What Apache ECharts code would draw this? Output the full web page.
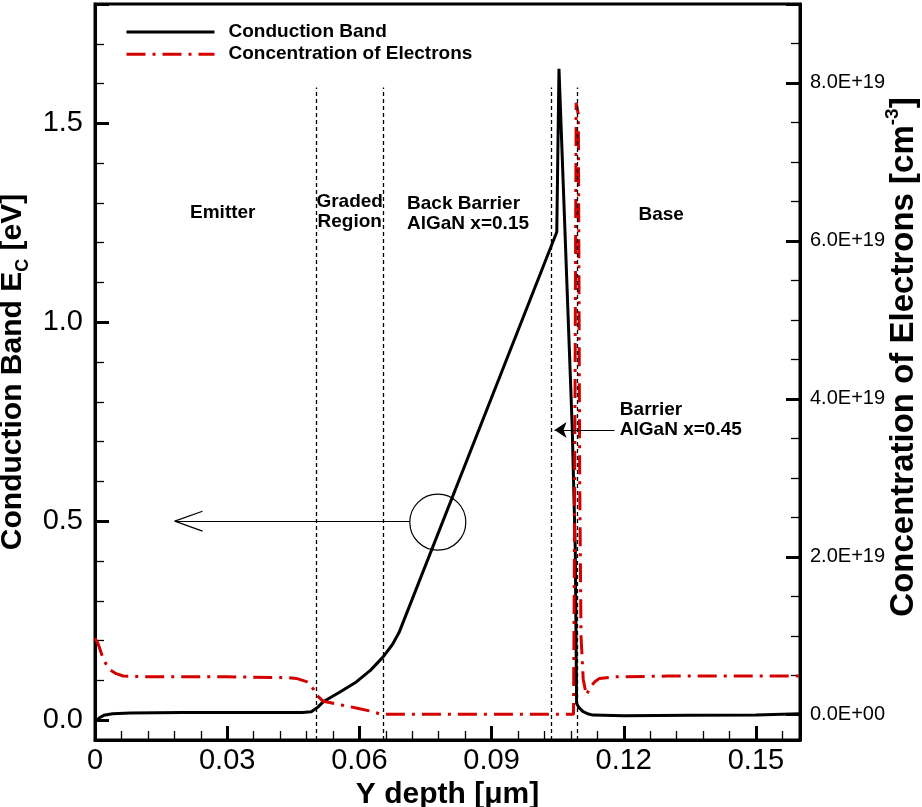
<!DOCTYPE html>
<html><head><meta charset="utf-8">
<script src="https://cdn.jsdelivr.net/npm/echarts@6/dist/echarts.min.js"></script>
<style>html,body{margin:0;padding:0;background:#fff}#c{width:922px;height:807px}</style>
</head><body><div id="c"></div>
<script>
// ---- data ----
const depthCB = [0, 0.001, 0.002, 0.004, 0.008, 0.02, 0.035, 0.047, 0.0491, 0.0505, 0.0518, 0.0555, 0.0593, 0.0625, 0.0654, 0.0675, 0.0690, 0.1048, 0.1053, 0.1083, 0.1090, 0.1093, 0.1098, 0.1107, 0.1118, 0.1130, 0.120, 0.135, 0.150, 0.160];
const conductionBand = [-0.005, 0.006, 0.012, 0.016, 0.018, 0.019, 0.019, 0.019, 0.021, 0.032, 0.046, 0.070, 0.096, 0.125, 0.159, 0.190, 0.220, 1.227, 1.637, 0.737, 0.427, 0.042, 0.032, 0.022, 0.016, 0.0126, 0.011, 0.012, 0.013, 0.016];
const depthN = [0, 0.0007, 0.0018, 0.0027, 0.0034, 0.0048, 0.0064, 0.012, 0.030, 0.044, 0.0457, 0.048, 0.0495, 0.0503, 0.0518, 0.0593, 0.0630, 0.0646, 0.066, 0.100, 0.1086, 0.1088, 0.1092, 0.1097, 0.1100, 0.1103, 0.1108, 0.1115, 0.1125, 0.1135, 0.1145, 0.118, 0.130, 0.160];
const electronConc = [0.97, 0.90, 0.72, 0.62, 0.57, 0.52, 0.49, 0.48, 0.48, 0.47, 0.46, 0.42, 0.33, 0.25, 0.17, 0.085, 0.04, 0.01, 0.005, 0.005, 0.005, 2.0, 7.75, 7.6, 3.0, 1.0, 0.45, 0.25, 0.36, 0.42, 0.46, 0.48, 0.49, 0.49]; // x 1E19 cm^-3
const xMajorTicks = [0, 0.03, 0.06, 0.09, 0.12, 0.15];
const ecMajorTicks = [0, 0.5, 1.0, 1.5];
const concMajorTicks = [0, 2, 4, 6, 8];
const regionBounds = [0.0501, 0.0655, 0.1035, 0.1094];
const regionNames = ['Emitter', 'Graded\nRegion', 'Back Barrier\nAlGaN x=0.15', 'Base', 'Barrier\nAlGaN x=0.45'];
const regionNameX = [0.0290, 0.0578, 0.0707, 0.1285, 0.1190];
const regionNameY = [1.276, 1.277, 1.272, 1.269, 0.755];
const regionNameAlign = ['center', 'center', 'left', 'center', 'left'];

// ---- chart ----
const FONT = "'Liberation Sans', Arial, Helvetica, sans-serif";
const near = (v, list) => list.some(t => Math.abs(v - t) < 1e-6);
const bandDash = [4, 3];

const markPts = regionNames.map((t, i) => ({
  coord: [regionNameX[i], regionNameY[i]],
  symbol: 'circle', symbolSize: 1,
  itemStyle: {color: 'rgba(0,0,0,0)'},
  label: {show: true, formatter: t, position: regionNameAlign[i] === 'left' ? 'right' : 'inside', distance: 0,
    color: '#000', fontFamily: FONT, fontWeight: 'bold', fontSize: 19, lineHeight: 20, align: regionNameAlign[i]}
}));
markPts.push({coord: [0.0778, 0.4975], symbol: 'circle', symbolSize: 56,
  itemStyle: {color: 'rgba(0,0,0,0)', borderColor: '#000', borderWidth: 1.2}, label: {show: false}});

const thin = {color: '#000', width: 1.2, type: 'solid'};
const markLines = regionBounds.map(x => [
  {coord: [x, -0.05], lineStyle: {color: '#000', width: 1.3, type: bandDash}},
  {coord: [x, 1.59]}
]);
markLines.push([{coord: [0.0714, 0.5], lineStyle: thin}, {coord: [0.0181, 0.5]}]);
markLines.push([{coord: [0.0181, 0.5], lineStyle: thin}, {coord: [0.0244, 0.525]}]);
markLines.push([{coord: [0.0181, 0.5], lineStyle: thin}, {coord: [0.0244, 0.475]}]);
markLines.push([{coord: [0.1179, 0.729], lineStyle: thin, symbol: 'none'}, {coord: [0.1043, 0.729], symbol: 'arrow', symbolSize: 12}]);

const axisLineS = {show: true, onZero: false, lineStyle: {color: '#000', width: 3}};
const majorTick = {show: true, inside: true, length: 14, lineStyle: {color: '#000', width: 3}};
const minorTick = {show: true, inside: true, length: 9, lineStyle: {color: '#000', width: 1.3}};
const noLine = {show: false, onZero: false};
const noLabel = {show: false};

const chart = echarts.init(document.getElementById('c'), null, {renderer: 'canvas'});
chart.setOption({
  animation: false,
  backgroundColor: '#fff',
  grid: {left: 95, right: 122, top: 4, bottom: 67, outerBoundsMode: 'none', containLabel: false,
    show: true, borderColor: '#000', borderWidth: 3, backgroundColor: 'rgba(0,0,0,0)'},
  legend: {
    orient: 'vertical', left: 125, top: 22.5, padding: 0, itemWidth: 88, itemHeight: 14, itemGap: 3.2,
    itemStyle: {color: 'rgba(0,0,0,0)', borderWidth: 0, opacity: 0},
    lineStyle: {width: 3},
    textStyle: {fontFamily: FONT, fontWeight: 'bold', fontSize: 19, color: '#000', padding: [0, 0, 0, 9]},
    data: ['Conduction Band', 'Concentration of Electrons']
  },
  xAxis: [
    {type: 'value', position: 'bottom', min: 0, max: 0.16, interval: 0.03,
     axisLine: axisLineS, axisTick: majorTick, splitLine: {show: false},
     axisLabel: {color: '#000', fontFamily: FONT, fontSize: 29, margin: 6,
       formatter: v => near(v, xMajorTicks) ? (Math.abs(v) < 1e-9 ? '0' : v.toFixed(2)) : ''},
     name: 'Y depth [\u03bcm]', nameLocation: 'middle', nameGap: 34,
     nameTextStyle: {color: '#000', fontFamily: FONT, fontWeight: 'bold', fontSize: 30}},
    {type: 'value', position: 'bottom', min: 0, max: 0.16, interval: 0.006,
     axisLine: noLine, axisTick: minorTick, axisLabel: noLabel, splitLine: {show: false}}
  ],
  yAxis: [
    {type: 'value', position: 'left', min: -0.05, max: 1.8, minInterval: 0.5, maxInterval: 0.5, splitNumber: 4,
     axisLine: axisLineS, axisTick: majorTick, splitLine: {show: false},
     axisLabel: {color: '#000', fontFamily: FONT, fontSize: 29, margin: 12,
       formatter: v => near(v, ecMajorTicks) ? v.toFixed(1) : ''},
     name: '{b|Conduction Band E}{s|C}{b| [eV]}', nameLocation: 'middle', nameRotate: 90, nameGap: 49,
     nameTextStyle: {rich: {
       b: {color: '#000', fontFamily: FONT, fontWeight: 'bold', fontSize: 30, padding: [0, 0, 4, 0]},
       s: {color: '#000', fontFamily: FONT, fontWeight: 'bold', fontSize: 18, padding: [16, 0, 0, 0]}}}},
    {type: 'value', position: 'left', min: -0.05, max: 1.8, minInterval: 0.1, maxInterval: 0.1, splitNumber: 18,
     axisLine: noLine, axisTick: minorTick, axisLabel: noLabel, splitLine: {show: false}},
    {type: 'value', position: 'right', min: -0.32, max: 9.0, minInterval: 2, maxInterval: 2, splitNumber: 4,
     axisLine: axisLineS, axisTick: majorTick, splitLine: {show: false},
     axisLabel: {color: '#000', fontFamily: FONT, fontSize: 20, margin: 10,
       formatter: v => near(v, concMajorTicks) ? (Math.abs(v) < 1e-9 ? '0.0E+00' : v.toFixed(1) + 'E+19') : ''},
     name: '{a|Concentration of Electrons [cm}{p|-3}{b|]}', nameLocation: 'middle', nameRotate: 90, nameGap: 83,
     nameMoveOverlap: false,
     nameTextStyle: {rich: {
       a: {color: '#000', fontFamily: FONT, fontWeight: 'bold', fontSize: 33, padding: [4, 0, 0, 30]},
       b: {color: '#000', fontFamily: FONT, fontWeight: 'bold', fontSize: 33, padding: [4, 0, 0, 0]},
       p: {color: '#000', fontFamily: FONT, fontWeight: 'bold', fontSize: 19, padding: [0, 0, 17, 0]}}}},
    {type: 'value', position: 'right', min: -0.32, max: 9.0, minInterval: 0.5, maxInterval: 0.5, splitNumber: 18,
     axisLine: noLine, axisTick: minorTick, axisLabel: noLabel, splitLine: {show: false}}
  ],
  series: [
    {name: 'Conduction Band', type: 'line', xAxisIndex: 0, yAxisIndex: 0, symbol: 'none', showSymbol: false,
     lineStyle: {color: '#000', width: 3}, itemStyle: {color: '#000'},
     data: depthCB.map((x, i) => [x, conductionBand[i]]),
     markPoint: {silent: true, data: markPts},
     markLine: {silent: true, symbol: ['none', 'none'], label: {show: false}, data: markLines}},
    {name: 'Concentration of Electrons', type: 'line', xAxisIndex: 0, yAxisIndex: 2, symbol: 'none', showSymbol: false,
     lineStyle: {color: '#d40000', width: 3, type: [19, 7, 3, 7]}, itemStyle: {color: '#d40000'},
     data: depthN.map((x, i) => [x, electronConc[i]])}
  ]
});
</script></body></html>
